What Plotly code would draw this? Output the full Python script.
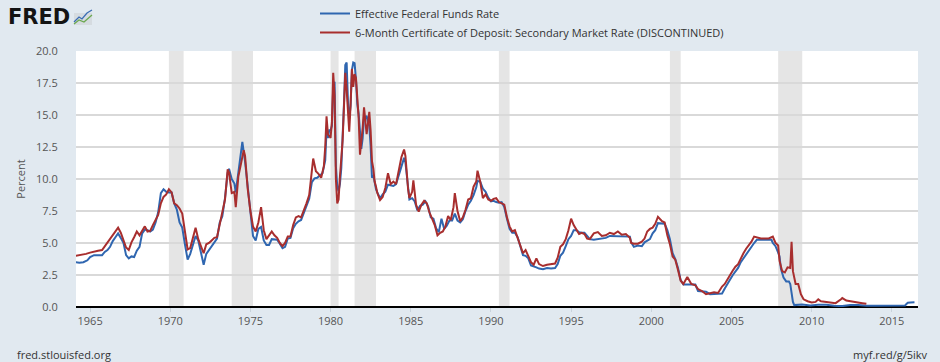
import plotly.graph_objects as go

# ---------------- data ----------------
ff_dates = [
 "1964-02","1964-05","1964-08","1964-11","1965-01","1965-04","1965-07","1965-10","1965-12",
 "1966-02","1966-04","1966-06","1966-08","1966-10","1966-12","1967-02","1967-04","1967-06","1967-08","1967-10","1967-12",
 "1968-02","1968-04","1968-06","1968-08","1968-10","1968-12","1969-02","1969-04","1969-06","1969-08","1969-10","1969-12",
 "1970-02","1970-04","1970-06","1970-08","1970-10","1970-12","1971-02","1971-04","1971-06","1971-08","1971-10","1971-12",
 "1972-02","1972-04","1972-06","1972-08","1972-10","1972-12","1973-02","1973-04","1973-06","1973-08","1973-09","1973-11",
 "1974-01","1974-02","1974-04","1974-06","1974-07","1974-09","1974-11","1975-01","1975-03","1975-05","1975-07","1975-09","1975-11",
 "1976-01","1976-03","1976-05","1976-07","1976-09","1976-11","1977-01","1977-03","1977-05","1977-07","1977-09","1977-11",
 "1978-01","1978-03","1978-05","1978-07","1978-09","1978-11","1979-01","1979-03","1979-05","1979-07","1979-09","1979-10","1979-11","1979-12",
 "1980-01","1980-02","1980-03","1980-04","1980-05","1980-06","1980-07","1980-08","1980-09","1980-10","1980-11","1980-12",
 "1981-01","1981-02","1981-03","1981-04","1981-05","1981-06","1981-07","1981-08","1981-09","1981-10","1981-11","1981-12",
 "1982-01","1982-02","1982-03","1982-04","1982-05","1982-06","1982-07","1982-08","1982-09","1982-10","1982-11","1982-12",
 "1983-02","1983-04","1983-06","1983-08","1983-10","1983-12","1984-02","1984-04","1984-06","1984-08","1984-09","1984-11","1984-12",
 "1985-02","1985-04","1985-06","1985-08","1985-10","1985-12","1986-02","1986-04","1986-06","1986-08","1986-10","1986-12",
 "1987-02","1987-04","1987-06","1987-08","1987-10","1987-12","1988-02","1988-04","1988-06","1988-08","1988-10","1988-12",
 "1989-02","1989-03","1989-05","1989-07","1989-09","1989-11","1990-01","1990-03","1990-05","1990-07","1990-09","1990-11",
 "1991-01","1991-03","1991-05","1991-07","1991-09","1991-11","1992-01","1992-03","1992-05","1992-07","1992-09","1992-11",
 "1993-01","1993-04","1993-07","1993-10","1994-01","1994-03","1994-05","1994-07","1994-09","1994-11",
 "1995-01","1995-03","1995-05","1995-07","1995-09","1995-11","1996-01","1996-03","1996-06","1996-09","1996-12",
 "1997-03","1997-06","1997-09","1997-12","1998-03","1998-06","1998-09","1998-10","1998-12",
 "1999-03","1999-06","1999-08","1999-10","1999-12","2000-02","2000-04","2000-06","2000-09","2000-11",
 "2001-01","2001-03","2001-05","2001-07","2001-09","2001-11","2002-01","2002-04","2002-07","2002-10","2002-12",
 "2003-03","2003-06","2003-09","2003-12","2004-03","2004-06","2004-08","2004-10","2004-12",
 "2005-02","2005-04","2005-06","2005-08","2005-10","2005-12","2006-02","2006-04","2006-06","2006-08","2006-11",
 "2007-02","2007-05","2007-07","2007-08","2007-10","2007-12","2008-01","2008-02","2008-04","2008-06","2008-08","2008-09","2008-10","2008-11","2008-12",
 "2009-06","2009-12","2010-06","2010-12","2011-06","2011-12","2012-06","2012-12","2013-06","2013-12",
 "2014-06","2014-12","2015-06","2015-11","2015-12","2016-01","2016-03","2016-06",
]
ff_values = [
 3.50,3.45,3.50,3.65,3.90,4.05,4.05,4.05,4.30,
 4.45,4.70,5.15,5.45,5.75,5.40,5.00,4.05,3.80,3.95,3.90,4.40,
 4.70,5.75,6.05,6.00,5.90,6.05,6.60,7.40,8.90,9.20,9.00,8.95,
 8.95,8.10,7.60,6.60,6.20,4.90,3.70,4.15,4.90,5.55,5.20,4.15,
 3.30,4.15,4.45,4.80,5.05,5.35,6.60,7.10,8.50,10.50,10.80,10.00,
 9.65,8.95,10.50,11.90,12.90,11.35,9.45,7.10,5.55,5.20,6.10,6.25,5.20,
 4.85,4.85,5.30,5.30,5.25,4.95,4.60,4.70,5.35,5.40,6.15,6.50,
 6.70,6.80,7.35,7.80,8.45,9.75,10.05,10.10,10.25,10.45,11.45,13.75,13.20,13.80,
 13.80,14.15,17.20,17.60,11.00,9.45,9.05,9.60,10.85,12.80,15.85,18.90,
 19.10,15.95,14.70,15.70,18.50,19.10,19.05,17.80,15.85,15.10,13.30,12.35,
 13.20,14.80,14.70,14.95,14.45,14.15,12.60,10.10,10.30,9.70,9.20,8.95,
 8.50,8.80,9.00,9.55,9.50,9.45,9.60,10.30,11.05,11.65,11.30,9.45,8.40,
 8.50,8.25,7.55,7.90,8.00,8.25,7.85,7.00,6.90,6.15,5.85,6.90,
 6.10,6.35,6.75,6.75,7.30,6.75,6.60,6.85,7.50,8.00,8.30,8.75,
 9.35,9.85,9.80,9.25,9.00,8.55,8.25,8.30,8.20,8.15,8.20,7.80,
 6.90,6.10,5.80,5.80,5.45,4.80,4.05,4.00,3.80,3.25,3.20,3.10,
 3.00,2.95,3.05,3.00,3.05,3.35,4.00,4.25,4.75,5.30,
 5.55,6.00,6.00,5.85,5.80,5.80,5.55,5.30,5.25,5.30,5.30,
 5.40,5.55,5.55,5.50,5.50,5.55,5.50,5.05,4.70,
 4.80,4.75,5.05,5.20,5.30,5.75,6.00,6.55,6.50,6.50,
 6.00,5.30,4.20,3.75,3.05,2.10,1.75,1.75,1.75,1.75,1.25,
 1.25,1.20,1.00,1.00,1.00,1.05,1.45,1.75,2.15,
 2.50,2.80,3.05,3.50,3.80,4.15,4.50,4.80,5.00,5.25,5.25,
 5.25,5.25,5.25,5.00,4.75,4.25,3.95,3.00,2.30,2.00,2.00,1.80,0.95,0.40,0.15,
 0.20,0.12,0.18,0.18,0.09,0.07,0.16,0.16,0.09,0.09,
 0.10,0.12,0.13,0.12,0.24,0.34,0.36,0.38,
]

cd_dates = [
 "1964-02","1964-06","1964-10","1965-01","1965-04","1965-07","1965-10","1965-12",
 "1966-02","1966-04","1966-06","1966-08","1966-10","1966-12","1967-02","1967-04","1967-06","1967-08","1967-10","1967-12",
 "1968-02","1968-04","1968-06","1968-08","1968-10","1968-12","1969-02","1969-04","1969-06","1969-08","1969-10","1969-12",
 "1970-02","1970-04","1970-06","1970-08","1970-10","1970-12","1971-02","1971-04","1971-06","1971-08","1971-10","1971-12",
 "1972-02","1972-04","1972-06","1972-08","1972-10","1972-12","1973-02","1973-04","1973-06","1973-08","1973-09","1973-11",
 "1974-01","1974-02","1974-04","1974-06","1974-08","1974-09","1974-11","1975-01","1975-03","1975-05","1975-07","1975-09","1975-11",
 "1976-01","1976-03","1976-05","1976-07","1976-09","1976-11","1977-01","1977-03","1977-05","1977-07","1977-09","1977-11",
 "1978-01","1978-03","1978-05","1978-07","1978-09","1978-11","1978-12","1979-02","1979-04","1979-06","1979-08","1979-09","1979-10","1979-11","1979-12",
 "1980-01","1980-02","1980-03","1980-04","1980-05","1980-06","1980-07","1980-08","1980-09","1980-10","1980-11","1980-12",
 "1981-01","1981-02","1981-03","1981-04","1981-05","1981-06","1981-07","1981-08","1981-09","1981-10","1981-11","1981-12",
 "1982-01","1982-02","1982-03","1982-04","1982-05","1982-06","1982-07","1982-08","1982-09","1982-10","1982-11","1982-12",
 "1983-02","1983-04","1983-06","1983-08","1983-10","1983-12","1984-02","1984-04","1984-06","1984-08","1984-09","1984-11","1984-12",
 "1985-02","1985-03","1985-05","1985-07","1985-09","1985-11","1986-01","1986-03","1986-05","1986-07","1986-09","1986-11",
 "1987-01","1987-03","1987-05","1987-07","1987-09","1987-10","1987-12","1988-02","1988-04","1988-06","1988-08","1988-10","1988-12",
 "1989-02","1989-03","1989-05","1989-07","1989-09","1989-11","1990-01","1990-03","1990-05","1990-07","1990-09","1990-11",
 "1991-01","1991-03","1991-05","1991-07","1991-09","1991-11","1992-01","1992-03","1992-05","1992-07","1992-09","1992-11",
 "1993-01","1993-04","1993-07","1993-10","1994-01","1994-03","1994-05","1994-07","1994-09","1994-11",
 "1995-01","1995-03","1995-05","1995-07","1995-09","1995-11","1996-01","1996-03","1996-06","1996-09","1996-12",
 "1997-03","1997-06","1997-09","1997-12","1998-03","1998-06","1998-09","1998-10","1998-12",
 "1999-03","1999-06","1999-08","1999-10","1999-12","2000-02","2000-04","2000-06","2000-09","2000-11",
 "2001-01","2001-03","2001-05","2001-07","2001-09","2001-11","2002-01","2002-04","2002-07","2002-10","2002-12",
 "2003-03","2003-06","2003-09","2003-12","2004-03","2004-06","2004-08","2004-10","2004-12",
 "2005-02","2005-04","2005-06","2005-08","2005-10","2005-12","2006-02","2006-04","2006-06","2006-08","2006-11",
 "2007-02","2007-05","2007-08","2007-10","2007-12","2008-01","2008-03","2008-05","2008-07","2008-09","2008-10","2008-11",
 "2009-01","2009-03","2009-05","2009-07","2009-10","2010-01","2010-04","2010-06","2010-08","2010-12",
 "2011-04","2011-07","2011-11","2011-12","2012-03","2012-07","2012-11","2013-03","2013-06",
]
cd_values = [
 4.00,4.05,4.15,4.25,4.35,4.40,4.45,4.75,
 5.10,5.40,5.60,5.95,6.20,5.80,5.20,4.65,4.45,5.05,5.45,5.90,
 5.60,6.00,6.30,5.90,5.95,6.40,6.80,7.20,8.10,8.60,8.80,9.20,
 8.95,8.10,7.95,7.70,7.30,5.80,4.50,4.60,5.50,6.20,5.30,4.70,
 4.20,4.90,5.00,5.20,5.40,5.45,6.40,7.30,8.40,10.75,10.50,8.90,
 9.00,7.80,10.20,11.20,12.25,11.80,9.20,7.50,6.30,5.90,6.60,7.80,6.00,
 5.30,5.60,5.90,5.60,5.40,5.00,4.75,5.00,5.50,5.50,6.40,7.00,
 7.10,7.00,7.50,8.10,8.75,10.60,11.60,10.60,10.40,10.10,11.00,12.50,14.90,13.50,13.30,
 13.20,14.50,18.30,16.50,10.00,8.10,8.40,10.20,11.80,13.00,15.60,18.30,
 17.00,15.60,13.70,15.80,18.60,17.20,18.20,17.90,16.50,14.80,11.90,12.80,
 14.00,15.60,14.60,13.50,14.30,15.25,13.80,11.40,10.80,9.80,9.40,8.90,
 8.35,8.60,9.30,10.45,9.60,9.80,9.60,10.60,11.70,12.30,11.80,9.20,8.50,
 9.00,9.90,8.00,7.45,8.00,8.30,8.10,7.40,6.90,6.40,5.60,5.80,
 5.90,6.30,7.10,6.80,7.80,8.90,7.50,6.70,7.00,7.60,8.40,8.50,9.40,
 9.80,10.65,9.80,8.50,8.80,8.40,8.30,8.45,8.50,8.20,8.10,8.00,
 7.00,6.30,5.90,6.00,5.40,4.80,4.20,4.45,3.95,3.50,3.30,3.80,
 3.35,3.20,3.30,3.35,3.40,3.85,4.70,4.90,5.30,6.00,
 6.90,6.40,6.00,5.70,5.80,5.70,5.35,5.30,5.75,5.85,5.55,
 5.60,5.80,5.70,5.90,5.65,5.70,5.40,5.00,4.95,
 4.95,5.10,5.35,5.90,6.10,6.20,6.50,7.05,6.70,6.60,
 5.60,4.90,3.95,3.70,2.90,2.05,1.80,2.35,1.80,1.70,1.40,
 1.25,1.00,1.10,1.15,1.10,1.60,1.80,2.10,2.50,
 2.85,3.15,3.35,3.85,4.20,4.55,4.80,5.10,5.50,5.45,5.35,
 5.35,5.35,5.50,5.00,4.80,3.60,2.80,2.70,3.10,3.05,5.10,2.80,
 1.80,1.80,1.00,0.60,0.45,0.35,0.40,0.60,0.45,0.40,
 0.35,0.30,0.60,0.70,0.50,0.45,0.35,0.30,0.25,
]

recession_starts = ["1969-12-01","1973-11-01","1980-01-01","1981-07-01","1990-07-01","2001-03-01","2007-12-01"]
recession_ends   = ["1970-11-01","1975-03-01","1980-07-01","1982-11-01","1991-03-01","2001-11-01","2009-06-01"]

series_names = ["Effective Federal Funds Rate",
                "6-Month Certificate of Deposit: Secondary Market Rate (DISCONTINUED)"]
y_ticks = [0, 2.5, 5, 7.5, 10, 12.5, 15, 17.5, 20]

# ---------------- figure ----------------
FONT = "Open Sans, Noto Sans, sans-serif"
BLUE = "#2f66b0"
RED = "#a82e2e"
BG = "#e1e9f0"

W, H = 940, 362
ML, MR, MT, MB = 76, 22, 51, 55
PW, PH = W - ML - MR, H - MT - MB

def px(x):  # pixel -> paper x
    return (x - ML) / PW

def py(y):  # pixel (from top) -> paper y
    return (H - MB - y) / PH

fig = go.Figure()
fig.add_trace(go.Scatter(x=ff_dates, y=ff_values, mode="lines", name=series_names[0],
                         line=dict(color=BLUE, width=2)))
fig.add_trace(go.Scatter(x=cd_dates, y=cd_values, mode="lines", name=series_names[1],
                         line=dict(color=RED, width=2)))

for s, e in zip(recession_starts, recession_ends):
    fig.add_shape(type="rect", xref="x", yref="paper", x0=s, x1=e, y0=0, y1=1,
                  fillcolor="#e5e5e5", line=dict(width=0), layer="below")

# FRED logo icon (small chart glyph)
fig.add_shape(type="rect", xref="paper", yref="paper",
              x0=px(74), x1=px(92), y0=py(25), y1=py(13), fillcolor="#d5dbe0",
              line=dict(width=0))
fig.add_shape(type="path", xref="paper", yref="paper",
              path=f"M {px(74)} {py(22)} L {px(79)} {py(17)} L {px(82)} {py(19)} L {px(87)} {py(13)} L {px(92)} {py(10)}",
              line=dict(color="#3b6db3", width=1.3))
fig.add_shape(type="path", xref="paper", yref="paper",
              path=f"M {px(74)} {py(24)} L {px(79)} {py(20)} L {px(84)} {py(22)} L {px(92)} {py(15)}",
              line=dict(color="#6aa84f", width=1.3))

fig.add_annotation(text="<b>FRED</b>", xref="paper", yref="paper", x=px(6), y=py(17),
                   xanchor="left", yanchor="middle", showarrow=False,
                   font=dict(family="DejaVu Sans, Liberation Sans", size=21, color="#141414"))
fig.add_annotation(text="fred.stlouisfed.org", xref="paper", yref="paper", x=px(15), y=py(354),
                   xanchor="left", yanchor="middle", showarrow=False,
                   font=dict(family=FONT, size=11, color="#333333"))
fig.add_annotation(text="myf.red/g/5ikv", xref="paper", yref="paper", x=px(930), y=py(354),
                   xanchor="right", yanchor="middle", showarrow=False,
                   font=dict(family=FONT, size=11, color="#333333"))

fig.update_layout(
    width=W, height=H,
    margin=dict(l=ML, r=MR, t=MT, b=MB, autoexpand=False),
    paper_bgcolor=BG,
    plot_bgcolor="#ffffff",
    font=dict(family=FONT, size=11, color="#555555"),
    showlegend=True,
    legend=dict(x=px(315), y=py(23), xanchor="left", yanchor="middle",
                bgcolor="rgba(0,0,0,0)", font=dict(family=FONT, size=11, color="#333333"),
                tracegroupgap=0, itemwidth=30),
    xaxis=dict(type="date", range=["1964-02-15", "2016-08-20"],
               tick0="1965-01-01", dtick="M60", tickformat="%Y",
               showgrid=False, ticks="outside", ticklen=4, tickcolor="#c9d3dc",
               showline=False, zeroline=False,
               tickfont=dict(family=FONT, size=11, color="#555555")),
    yaxis=dict(range=[0, 20], tickvals=y_ticks, tickformat=".1f",
               showgrid=True, gridcolor="#d9d9d9", gridwidth=1.5,
               zeroline=True, zerolinecolor="#000000", zerolinewidth=2,
               ticks="outside", ticklen=15, tickcolor=BG,
               title=dict(text="Percent", font=dict(family=FONT, size=11, color="#555555"), standoff=8),
               tickfont=dict(family=FONT, size=11, color="#555555")),
)

fig.write_html("out.html",
               config={"displayModeBar": False},
               post_script=f"document.body.style.margin='0';document.body.style.background='{BG}';")
